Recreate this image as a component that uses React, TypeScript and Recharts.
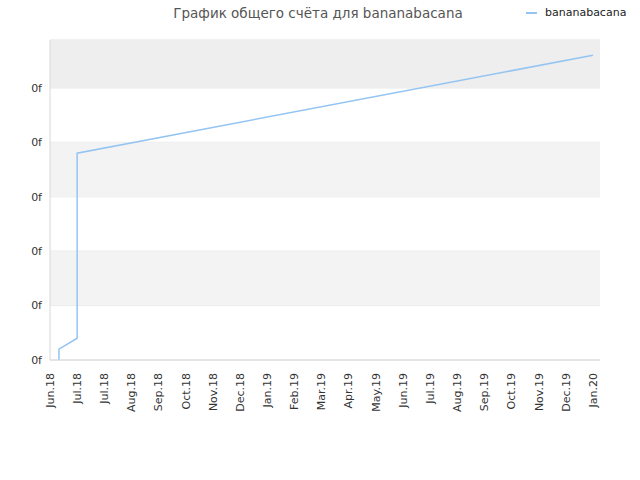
import React from "react";
import {
  CartesianGrid,
  Line,
  LineChart,
  ReferenceArea,
  XAxis,
  YAxis
} from "recharts";

const monthLabels = [
  "Jun.18", "Jul.18", "Jul.18", "Aug.18", "Sep.18", "Oct.18", "Nov.18", "Dec.18",
  "Jan.19", "Feb.19", "Mar.19", "Apr.19", "May.19", "Jun.19", "Jul.19", "Aug.19",
  "Sep.19", "Oct.19", "Nov.19", "Dec.19", "Jan.20"
];
const monthTicks = monthLabels.map((_, i) => i);
const pointX = [0.33, 0.33, 1, 1, 20];
const pointScore = [0, 0.2, 0.4, 3.8, 5.6];
const scoreTicks = [0, 1, 2, 3, 4, 5];
const bandsFrom = [1, 3, 5];
const bandsTo = [2, 4, 5.88];

const data = pointX.map((x, i) => ({ x, score: pointScore[i] }));

const FONT = "'DejaVu Sans', Verdana, sans-serif";

function MonthTick({ x, y, payload }: any) {
  return (
    <g transform={`translate(${x},${y})`}>
      <text
        transform="rotate(-90)"
        x={-5}
        y={0}
        dy="0.35em"
        textAnchor="end"
        fill="#333"
        fontSize={11}
        fontFamily={FONT}
      >
        {monthLabels[payload.value]}
      </text>
    </g>
  );
}

export default function App() {
  return (
    <div style={{ position: "absolute", left: 0, top: 0, width: 640, height: 480, background: "#fff" }}>
      <div
        style={{
          position: "absolute",
          top: 5,
          left: 0,
          width: 636,
          textAlign: "center",
          fontFamily: FONT,
          fontSize: 13.5,
          color: "#555"
        }}
      >
        График общего счёта для bananabacana
      </div>
      <div
        style={{
          position: "absolute",
          top: 6,
          left: 526,
          display: "flex",
          alignItems: "center",
          fontFamily: FONT,
          fontSize: 11,
          color: "#222"
        }}
      >
        <span style={{ display: "inline-block", width: 11, height: 2, background: "#94c4f2", marginRight: 8 }} />
        bananabacana
      </div>
      <LineChart
        width={640}
        height={480}
        data={data}
        margin={{ top: 40, right: 40, bottom: 0, left: 0 }}
      >
        {bandsFrom.map((from, i) => (
          <ReferenceArea
            key={i}
            y1={from}
            y2={bandsTo[i]}
            fill={i === 2 ? "#eeeeee" : "#f3f3f3"}
            fillOpacity={1}
            stroke="none"
            ifOverflow="hidden"
          />
        ))}
        <CartesianGrid vertical={false} stroke="#e2e2e2" />
        <XAxis
          type="number"
          dataKey="x"
          domain={[0, 20.26]}
          ticks={monthTicks}
          interval={0}
          height={120}
          tick={<MonthTick />}
          tickLine={false}
          axisLine={{ stroke: "#d8d8d8" }}
        />
        <YAxis
          type="number"
          domain={[0, 5.88]}
          ticks={scoreTicks}
          tickFormatter={() => "0f"}
          width={50}
          tickLine={false}
          axisLine={{ stroke: "#d8d8d8" }}
          tick={{ fill: "#333", fontSize: 11, fontFamily: FONT }}
        />
        <YAxis
          yAxisId="right"
          orientation="right"
          width={0}
          tick={false}
          tickLine={false}
          axisLine={{ stroke: "#d8d8d8" }}
        />
        <XAxis
          xAxisId="top"
          orientation="top"
          height={0}
          tick={false}
          tickLine={false}
          axisLine={{ stroke: "#d8d8d8" }}
        />
        <Line
          type="linear"
          dataKey="score"
          stroke="#94c4f2"
          strokeWidth={1.5}
          dot={false}
          activeDot={false}
          isAnimationActive={false}
        />
      </LineChart>
    </div>
  );
}
